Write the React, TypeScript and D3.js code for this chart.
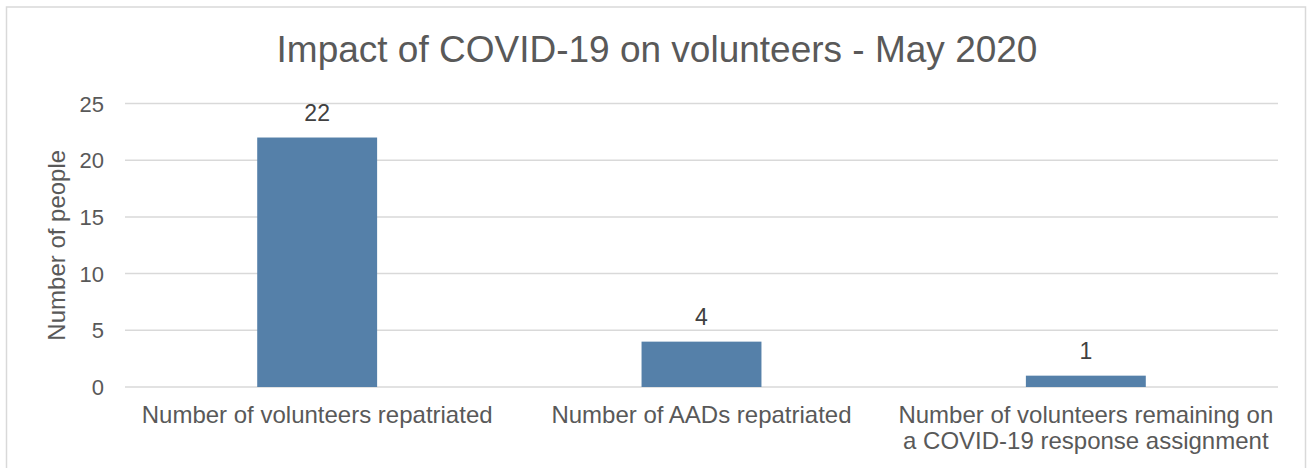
import React from "react";
import * as d3 from "d3";

const categories: string[][] = [
  ["Number of volunteers repatriated"],
  ["Number of AADs repatriated"],
  ["Number of volunteers remaining on", "a COVID-19 response assignment"],
];
const values: number[] = [22, 4, 1];
const yTicks: number[] = [0, 5, 10, 15, 20, 25];

const W = 1307;
const H = 468;
const FONT = "'Liberation Sans', Arial, sans-serif";
const TEXT = "#595959";
const GRID = "#d9d9d9";
const BAR = "#5580a9";

export default function App() {
  const left = 125;
  const right = 1278;
  const top = 103.5;
  const bottom = 387;

  const x = d3
    .scaleBand<number>()
    .domain(values.map((_, i) => i))
    .range([left, right])
    .paddingInner(0.688)
    .paddingOuter(0.344);
  const y = d3.scaleLinear().domain([0, 25]).range([bottom, top]);
  const band = (right - left) / values.length;

  return (
    <svg
      width={W}
      height={H}
      style={{ position: "fixed", left: 0, top: 0, display: "block", background: "#fff" }}
      fontFamily={FONT}
    >
      <rect x={6.5} y={7} width={1299} height={470} fill="#fff" stroke={GRID} strokeWidth={1.5} />
      <text x={657} y={62} textAnchor="middle" fontSize={37} fill={TEXT}>
        Impact of COVID-19 on volunteers - May 2020
      </text>
      {yTicks.map((t) => (
        <g key={t}>
          <line x1={left} x2={right} y1={y(t)} y2={y(t)} stroke={GRID} strokeWidth={1.5} />
          <text x={104} y={y(t) + 8} textAnchor="end" fontSize={22} fill={TEXT}>
            {t}
          </text>
        </g>
      ))}
      <text
        transform={`translate(65, ${(top + bottom) / 2}) rotate(-90)`}
        textAnchor="middle"
        fontSize={24}
        fill={TEXT}
      >
        Number of people
      </text>
      {values.map((v, i) => {
        const bx = x(i) as number;
        const bw = x.bandwidth();
        return (
          <g key={i}>
            <rect x={bx} y={y(v)} width={bw} height={y(0) - y(v)} fill={BAR} />
            <text x={bx + bw / 2} y={y(v) - 17} textAnchor="middle" fontSize={23} fill="#404040">
              {v}
            </text>
          </g>
        );
      })}
      {categories.map((lines, i) => {
        const cx = left + band * (i + 0.5);
        return (
          <text key={i} textAnchor="middle" fontSize={24} fill={TEXT}>
            {lines.map((l, j) => (
              <tspan key={j} x={cx} y={423 + j * 26}>
                {l}
              </tspan>
            ))}
          </text>
        );
      })}
    </svg>
  );
}
